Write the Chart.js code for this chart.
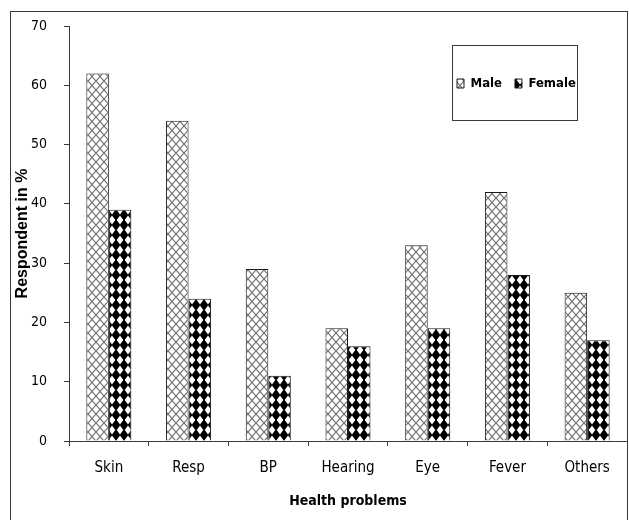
<!DOCTYPE html>
<html>
<head>
<meta charset="utf-8">
<script src="https://cdn.jsdelivr.net/npm/chart.js@4"></script>
<style>
  html, body { margin: 0; padding: 0; background: #ffffff; }
  #wrap { width: 629px; height: 520px; position: relative; }
</style>
</head>
<body>
<div id="wrap"><canvas id="c" width="629" height="520"></canvas></div>
<script>
// ---- data ----
const categories = ['Skin', 'Resp', 'BP', 'Hearing', 'Eye', 'Fever', 'Others'];
const maleValues = [62, 54, 29, 19, 33, 42, 25];
const femaleValues = [39, 24, 11, 16, 19, 28, 17];
const seriesNames = ['Male', 'Female'];
const yMin = 0;
const yMax = 70;
const yStep = 10;
const xTitle = 'Health problems';
const yTitle = 'Respondent in %';

// ---- styling ----
const NARROW = "'Liberation Sans Narrow', 'Arial Narrow', 'DejaVu Sans Condensed', sans-serif";
const LINE = '#3a3a3a';

function makeCrossHatch() {
  const c = document.createElement('canvas');
  c.width = 8; c.height = 9;
  const g = c.getContext('2d');
  g.fillStyle = '#ffffff';
  g.fillRect(0, 0, 8, 9);
  g.strokeStyle = '#6a6a6a';
  g.lineWidth = 1.15;
  g.beginPath();
  g.moveTo(-1, -1.125); g.lineTo(9, 10.125);
  g.moveTo(9, -1.125); g.lineTo(-1, 10.125);
  g.stroke();
  return g.createPattern(c, 'repeat');
}
function makeDiamonds() {
  const c = document.createElement('canvas');
  c.width = 8; c.height = 10;
  const g = c.getContext('2d');
  g.fillStyle = '#000000';
  g.fillRect(0, 0, 8, 10);
  g.fillStyle = '#ffffff';
  const corners = [[0, 0], [8, 0], [0, 10], [8, 10]];
  corners.forEach(([cx, cy]) => {
    g.beginPath();
    g.moveTo(cx, cy - 4.6);
    g.lineTo(cx + 3.3, cy);
    g.lineTo(cx, cy + 4.6);
    g.lineTo(cx - 3.3, cy);
    g.closePath();
    g.fill();
  });
  return g.createPattern(c, 'repeat');
}

const framePlugin = {
  id: 'framePlugin',
  beforeDraw(chart) {
    const ctx = chart.ctx;
    ctx.save();
    ctx.fillStyle = '#ffffff';
    ctx.fillRect(0, 0, chart.width, chart.height);
    ctx.restore();
  },
  afterLayout(chart) {
    const lg = chart.legend;
    if (!lg) return;
    const h = lg.height;
    const pad = lg.options.labels.padding;
    lg.left = 457 - pad;
    lg.right = 626;
    lg.width = lg.right - lg.left;
    lg.top = 64;
    lg.bottom = lg.top + h;
    if (lg.adjustHitBoxes) lg.adjustHitBoxes();
  },
  afterDraw(chart) {
    const ctx = chart.ctx;
    ctx.save();
    ctx.strokeStyle = LINE;
    ctx.lineWidth = 1;
    // outer frame
    ctx.strokeRect(10.5, 11.5, 617, 530);
    // legend frame
    ctx.strokeRect(452.5, 45.5, 125, 75);
    ctx.restore();
  }
};

const ctx = document.getElementById('c').getContext('2d');
new Chart(ctx, {
  type: 'bar',
  data: {
    labels: categories,
    datasets: [
      {
        label: seriesNames[0],
        data: maleValues,
        backgroundColor: makeCrossHatch(),
        borderColor: '#1a1a1a',
        borderWidth: 1
      },
      {
        label: seriesNames[1],
        data: femaleValues,
        backgroundColor: makeDiamonds(),
        borderColor: '#1a1a1a',
        borderWidth: 1
      }
    ]
  },
  options: {
    responsive: false,
    devicePixelRatio: 1,
    animation: false,
    events: [],
    layout: { padding: { top: -10, left: 0, right: 2, bottom: 0 } },
    datasets: { bar: { categoryPercentage: 0.565, barPercentage: 1.0 } },
    plugins: {
      legend: {
        display: true,
        position: 'top',
        align: 'start',
        labels: {
          boxWidth: 7,
          boxHeight: 9,
          padding: 13,
          color: '#000000',
          font: { family: NARROW, size: 13, weight: 'bold' }
        }
      },
      tooltip: { enabled: false },
      title: { display: false }
    },
    scales: {
      x: {
        border: { display: true, color: LINE, width: 1 },
        grid: { display: true, drawOnChartArea: false, drawTicks: true, tickLength: 5, color: LINE, offset: true },
        ticks: { color: '#000000', padding: 13, font: { family: NARROW, size: 15 }, maxRotation: 0, autoSkip: false },
        title: {
          display: true,
          text: xTitle,
          color: '#000000',
          font: { family: NARROW, size: 14, weight: 'bold' },
          padding: { top: 0, bottom: 10 }
        },
        afterFit(scale) { scale.height = 79; }
      },
      y: {
        min: yMin,
        max: yMax,
        border: { display: true, color: LINE, width: 1 },
        grid: { display: true, drawOnChartArea: false, drawTicks: true, tickLength: 5, color: LINE },
        ticks: { stepSize: yStep, color: '#000000', padding: 17, font: { family: NARROW, size: 14 } },
        title: {
          display: true,
          text: yTitle,
          color: '#000000',
          font: { family: "'Liberation Sans', Arial, sans-serif", size: 16, weight: 'bold' },
          padding: { top: 13, bottom: 0 }
        },
        afterFit(scale) { scale.width = 69; }
      }
    }
  },
  plugins: [framePlugin]
});
</script>
</body>
</html>
